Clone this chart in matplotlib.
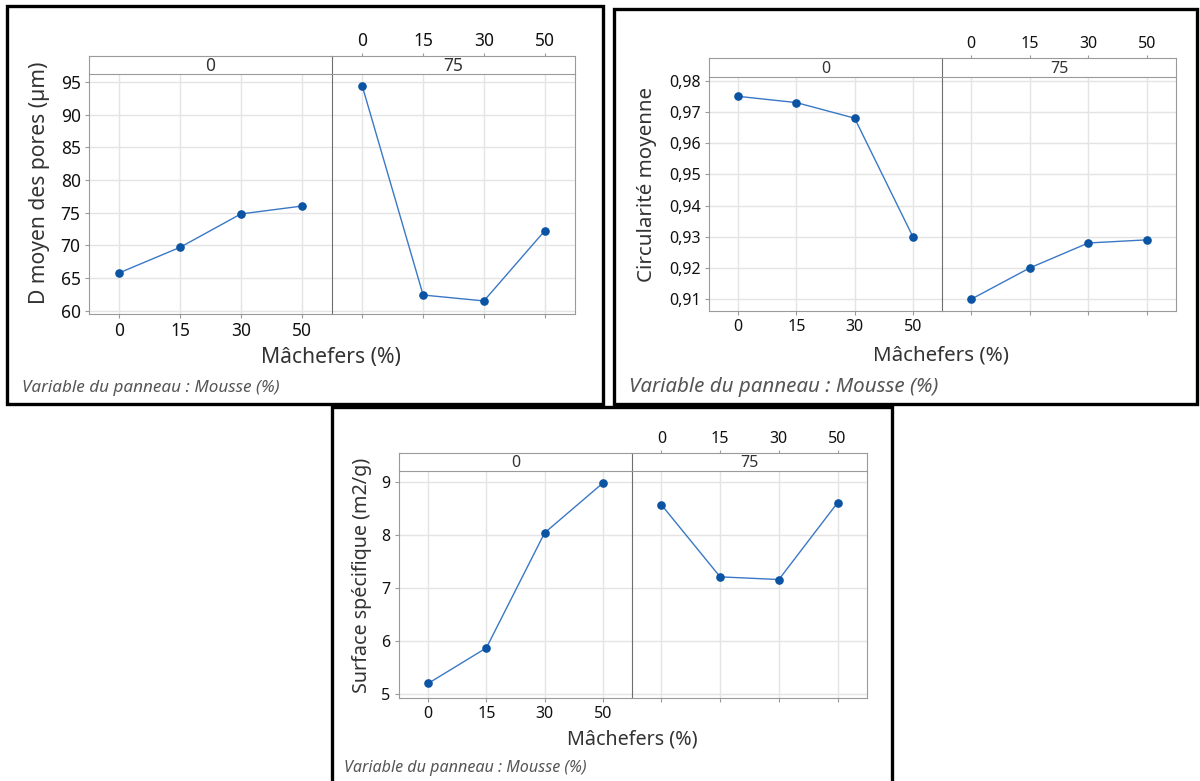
import numpy as np
import matplotlib.pyplot as plt
from matplotlib.patches import Rectangle

plt.rcParams['font.family'] = ['Noto Sans', 'DejaVu Sans']

machefers = ["0", "15", "30", "50"]
mousse = ["0", "75"]

d_pores_0 = [65.8, 69.7, 74.8, 76.0]
d_pores_75 = [94.3, 62.4, 61.5, 72.2]

circ_0 = [0.975, 0.973, 0.968, 0.930]
circ_75 = [0.910, 0.920, 0.928, 0.929]

surf_0 = [5.20, 5.87, 8.04, 8.98]
surf_75 = [8.57, 7.21, 7.16, 8.61]

d_ticks = [60, 65, 70, 75, 80, 85, 90, 95]
circ_ticks = [0.91, 0.92, 0.93, 0.94, 0.95, 0.96, 0.97, 0.98]
surf_ticks = [5, 6, 7, 8, 9]

W, H = 1200, 781
line_col = "#3a78c6"
mark_col = "#0b54a4"
grid_col = "#e4e4e4"
spine_col = "#9a9a9a"
div_col = "#6e6e6e"


def fr(x0, y0, x1, y1):
    return [x0 / W, 1 - y1 / H, (x1 - x0) / W, (y1 - y0) / H]


fig = plt.figure(figsize=(12, 7.81), dpi=100)

# black frames around each chart
for x0, y0, x1, y1 in [(7, 6, 603, 404), (614, 9, 1197, 404), (332, 407, 892, 790)]:
    fig.patches.append(Rectangle((x0 / W, 1 - y1 / H), (x1 - x0) / W, (y1 - y0) / H,
                                 transform=fig.transFigure, fill=False,
                                 edgecolor="black", linewidth=2.4, zorder=10))


def panel(pos, vals, ylim, yticks, ylabels, ylabel, tfs, lfs, nfs, txt):
    left, mid, right, stop, sbot, bottom = pos
    x = np.arange(len(machefers))
    for k, (x0, x1) in enumerate([(left, mid), (mid, right)]):
        ax = fig.add_axes(fr(x0, sbot, x1, bottom))
        ax.plot(x, vals[k], color=line_col, lw=1.0, zorder=3)
        ax.plot(x, vals[k], 'o', color=mark_col, ms=5.2, zorder=4)
        ax.set_xlim(-0.5, len(machefers) - 0.5)
        ax.set_ylim(ylim)
        ax.set_xticks(x)
        ax.set_yticks(yticks)
        ax.grid(True, color=grid_col, lw=1.0)
        ax.set_axisbelow(True)
        for s in ax.spines.values():
            s.set_color(spine_col)
        ax.spines['top'].set_visible(False)
        ax.tick_params(colors=spine_col, labelcolor="#111111", labelsize=tfs, length=3, pad=3)
        if k == 0:
            ax.set_xticklabels(machefers)
            ax.set_yticklabels(ylabels)
            ax.spines['right'].set_visible(False)
        else:
            ax.set_xticklabels([])
            ax.tick_params(axis='y', left=False, labelleft=False)
            ax.spines['left'].set_color(div_col)

        st = fig.add_axes(fr(x0, stop, x1, sbot))
        st.set_xlim(-0.5, len(machefers) - 0.5)
        st.set_ylim(0, 1)
        st.set_yticks([])
        st.text(0.5, 0.42, mousse[k], transform=st.transAxes, ha='center', va='center',
                fontsize=tfs, color="#333333")
        for s in st.spines.values():
            s.set_color(spine_col)
        if k == 0:
            st.set_xticks([])
            st.spines['right'].set_visible(False)
        else:
            st.spines['left'].set_color(div_col)
            st.xaxis.tick_top()
            st.set_xticks(x)
            st.set_xticklabels(machefers)
            st.tick_params(colors=spine_col, labelcolor="#111111", labelsize=tfs, length=2, pad=2)

    lx, ly, xx, xy, nx, ny = txt
    fig.text(lx / W, 1 - ly / H, ylabel, rotation=90, ha='center', va='center',
             fontsize=lfs, color="#333333")
    fig.text(xx / W, 1 - xy / H, "Mâchefers (%)", ha='center', va='center',
             fontsize=lfs, color="#333333")
    fig.text(nx / W, 1 - ny / H, "Variable du panneau : Mousse (%)", ha='left', va='center',
             fontsize=nfs, style='italic', color="#555555")


panel((89, 332, 575, 56, 74, 314), [d_pores_0, d_pores_75], (59.5, 96.2),
      d_ticks, [str(t) for t in d_ticks], "D moyen des pores (µm)", 12.5, 15.2, 12.3,
      (40, 183, 331, 358, 22, 388))

panel((709, 942, 1176, 58, 77, 311), [circ_0, circ_75], (0.9062, 0.9812),
      circ_ticks, [("%.2f" % t).replace('.', ',') for t in circ_ticks], "Circularité moyenne",
      11.5, 14.8, 14.8, (647, 184, 941, 355, 629, 387))

panel((399, 632, 867, 453, 471, 698), [surf_0, surf_75], (4.925, 9.207),
      surf_ticks, [str(t) for t in surf_ticks], "Surface spécifique (m2/g)", 11.5, 14.2, 11.6,
      (362, 575, 632, 739, 344, 768))

plt.savefig("out.png", dpi=100)
